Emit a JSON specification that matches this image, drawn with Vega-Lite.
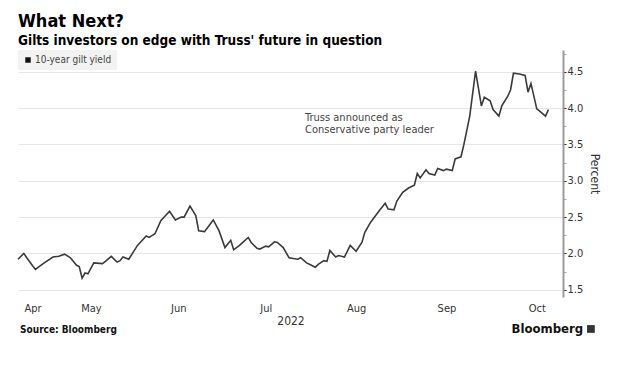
{
  "$schema": "https://vega.github.io/schema/vega-lite/v6.json",
  "width": 545,
  "height": 247,
  "autosize": {"type": "none"},
  "padding": {"left": 18, "top": 50, "right": 70, "bottom": 73},
  "background": "white",
  "title": {
    "text": "What Next?",
    "subtitle": "Gilts investors on edge with Truss' future in question",
    "anchor": "start",
    "frame": "group",
    "font": "DejaVu Sans Condensed, DejaVu Sans",
    "fontSize": 18,
    "fontWeight": "bold",
    "color": "#000000",
    "subtitleFont": "DejaVu Sans Condensed, DejaVu Sans",
    "subtitleFontSize": 13.5,
    "subtitleFontWeight": "bold",
    "subtitleColor": "#000000",
    "subtitlePadding": 3,
    "offset": 3
  },
  "config": {
    "view": {"stroke": null},
    "font": "DejaVu Sans Condensed, DejaVu Sans",
    "text": {"font": "DejaVu Sans Condensed, DejaVu Sans"}
  },
  "encoding": {
    "x": {
      "field": "date",
      "type": "temporal",
      "scale": {"domain": ["2022-04-21", "2022-10-25"]},
      "axis": {
        "values": [
          {"year": 2022, "month": 4, "date": 26},
          {"year": 2022, "month": 5, "date": 16},
          {"year": 2022, "month": 6, "date": 15},
          {"year": 2022, "month": 7, "date": 15},
          {"year": 2022, "month": 8, "date": 15},
          {"year": 2022, "month": 9, "date": 15},
          {"year": 2022, "month": 10, "date": 16}
        ],
        "format": "%b",
        "grid": false,
        "ticks": false,
        "domain": false,
        "labelFontSize": 11,
        "labelColor": "#333333",
        "labelPadding": 5,
        "title": "2022",
        "titleFontSize": 12,
        "titleFontWeight": "normal",
        "titleColor": "#333333",
        "titlePadding": 2
      }
    },
    "y": {
      "field": "value",
      "type": "quantitative",
      "scale": {"domain": [1.4, 4.8], "zero": false, "nice": false},
      "axis": {
        "orient": "right",
        "values": [1.5, 1.75, 2, 2.25, 2.5, 2.75, 3, 3.25, 3.5, 3.75, 4, 4.25, 4.5, 4.75],
        "labelExpr": "(datum.value * 2) % 1 == 0 ? format(datum.value, '.1f') : ''",
        "grid": true,
        "gridColor": "#e6e6e6",
        "gridOpacity": {"condition": {"test": "(datum.value * 2) % 1 == 0", "value": 1}, "value": 0},
        "domainColor": "#9a9a9a",
        "domainWidth": 2,
        "tickColor": {"condition": {"test": "(datum.value * 2) % 1 == 0", "value": "#333333"}, "value": "#aaaaaa"},
        "tickSize": 3,
        "tickWidth": 1,
        "labelFontSize": 11,
        "labelColor": "#333333",
        "labelPadding": 1,
        "title": "Percent",
        "titleFontSize": 12,
        "titleFontWeight": "normal",
        "titleColor": "#333333",
        "titlePadding": 5
      }
    }
  },
  "layer": [
    {
      "data": {"values": [
        {"date": "2022-05-01"}, {"date": "2022-06-01"}, {"date": "2022-07-01"},
        {"date": "2022-08-01"}, {"date": "2022-09-01"}, {"date": "2022-10-01"}
      ]},
      "mark": {"type": "rule", "color": "#e6e6e6", "strokeWidth": 1},
      "encoding": {"y": {"datum": 1.4}, "y2": {"datum": 4.8}}
    },
    {
      "data": {"values": [
        {"date": "2022-04-21", "value": 1.92},
        {"date": "2022-04-23", "value": 2.00},
        {"date": "2022-04-24", "value": 1.94},
        {"date": "2022-04-26", "value": 1.83},
        {"date": "2022-04-27", "value": 1.78},
        {"date": "2022-04-28", "value": 1.81},
        {"date": "2022-04-30", "value": 1.87},
        {"date": "2022-05-03", "value": 1.95},
        {"date": "2022-05-05", "value": 1.96},
        {"date": "2022-05-07", "value": 1.99},
        {"date": "2022-05-09", "value": 1.94},
        {"date": "2022-05-11", "value": 1.84},
        {"date": "2022-05-12", "value": 1.82},
        {"date": "2022-05-13", "value": 1.66},
        {"date": "2022-05-14", "value": 1.73},
        {"date": "2022-05-15", "value": 1.72},
        {"date": "2022-05-17", "value": 1.87},
        {"date": "2022-05-20", "value": 1.86},
        {"date": "2022-05-21", "value": 1.89},
        {"date": "2022-05-23", "value": 1.96},
        {"date": "2022-05-25", "value": 1.88},
        {"date": "2022-05-26", "value": 1.90},
        {"date": "2022-05-27", "value": 1.95},
        {"date": "2022-05-29", "value": 1.92},
        {"date": "2022-06-01", "value": 2.11},
        {"date": "2022-06-04", "value": 2.24},
        {"date": "2022-06-05", "value": 2.22},
        {"date": "2022-06-07", "value": 2.27},
        {"date": "2022-06-09", "value": 2.45},
        {"date": "2022-06-12", "value": 2.58},
        {"date": "2022-06-14", "value": 2.46},
        {"date": "2022-06-16", "value": 2.50},
        {"date": "2022-06-17", "value": 2.50},
        {"date": "2022-06-19", "value": 2.65},
        {"date": "2022-06-21", "value": 2.52},
        {"date": "2022-06-22", "value": 2.31},
        {"date": "2022-06-24", "value": 2.30},
        {"date": "2022-06-27", "value": 2.46},
        {"date": "2022-06-29", "value": 2.31},
        {"date": "2022-07-01", "value": 2.08},
        {"date": "2022-07-03", "value": 2.18},
        {"date": "2022-07-04", "value": 2.05},
        {"date": "2022-07-06", "value": 2.11},
        {"date": "2022-07-09", "value": 2.22},
        {"date": "2022-07-10", "value": 2.15},
        {"date": "2022-07-12", "value": 2.07},
        {"date": "2022-07-13", "value": 2.06},
        {"date": "2022-07-15", "value": 2.10},
        {"date": "2022-07-16", "value": 2.09},
        {"date": "2022-07-18", "value": 2.16},
        {"date": "2022-07-19", "value": 2.15},
        {"date": "2022-07-21", "value": 2.08},
        {"date": "2022-07-23", "value": 1.94},
        {"date": "2022-07-26", "value": 1.92},
        {"date": "2022-07-27", "value": 1.94},
        {"date": "2022-07-29", "value": 1.87},
        {"date": "2022-07-30", "value": 1.85},
        {"date": "2022-08-01", "value": 1.81},
        {"date": "2022-08-02", "value": 1.85},
        {"date": "2022-08-04", "value": 1.90},
        {"date": "2022-08-05", "value": 1.89},
        {"date": "2022-08-06", "value": 2.04},
        {"date": "2022-08-08", "value": 1.95},
        {"date": "2022-08-09", "value": 1.97},
        {"date": "2022-08-11", "value": 1.95},
        {"date": "2022-08-13", "value": 2.11},
        {"date": "2022-08-15", "value": 2.03},
        {"date": "2022-08-17", "value": 2.15},
        {"date": "2022-08-18", "value": 2.29},
        {"date": "2022-08-20", "value": 2.43},
        {"date": "2022-08-23", "value": 2.59},
        {"date": "2022-08-25", "value": 2.69},
        {"date": "2022-08-26", "value": 2.61},
        {"date": "2022-08-28", "value": 2.60},
        {"date": "2022-08-29", "value": 2.72},
        {"date": "2022-08-31", "value": 2.84},
        {"date": "2022-09-02", "value": 2.90},
        {"date": "2022-09-04", "value": 2.94},
        {"date": "2022-09-05", "value": 3.10},
        {"date": "2022-09-06", "value": 3.04},
        {"date": "2022-09-08", "value": 3.15},
        {"date": "2022-09-09", "value": 3.10},
        {"date": "2022-09-11", "value": 3.08},
        {"date": "2022-09-12", "value": 3.17},
        {"date": "2022-09-14", "value": 3.14},
        {"date": "2022-09-15", "value": 3.16},
        {"date": "2022-09-17", "value": 3.14},
        {"date": "2022-09-18", "value": 3.30},
        {"date": "2022-09-20", "value": 3.33},
        {"date": "2022-09-21", "value": 3.50},
        {"date": "2022-09-23", "value": 3.89},
        {"date": "2022-09-25", "value": 4.51},
        {"date": "2022-09-27", "value": 4.03},
        {"date": "2022-09-28", "value": 4.15},
        {"date": "2022-09-30", "value": 4.10},
        {"date": "2022-10-01", "value": 3.98},
        {"date": "2022-10-03", "value": 3.89},
        {"date": "2022-10-04", "value": 4.03},
        {"date": "2022-10-06", "value": 4.16},
        {"date": "2022-10-07", "value": 4.25},
        {"date": "2022-10-08", "value": 4.48},
        {"date": "2022-10-10", "value": 4.47},
        {"date": "2022-10-12", "value": 4.45},
        {"date": "2022-10-13", "value": 4.22},
        {"date": "2022-10-14", "value": 4.34},
        {"date": "2022-10-16", "value": 3.99},
        {"date": "2022-10-17", "value": 3.96},
        {"date": "2022-10-19", "value": 3.89},
        {"date": "2022-10-20", "value": 3.98}
      ]},
      "mark": {"type": "line", "strokeWidth": 1.6, "interpolate": "linear"},
      "encoding": {
        "color": {
          "datum": "10-year gilt yield",
          "scale": {"range": ["#3a3a3a"]},
          "legend": {
            "orient": "top-left",
            "offset": 0,
            "title": null,
            "fillColor": "#f2f2f2",
            "padding": 5,
            "symbolType": "square",
            "symbolSize": 30,
            "symbolFillColor": "#111111",
            "symbolStrokeColor": "#111111",
            "symbolStrokeWidth": 0,
            "labelFontSize": 10,
            "labelColor": "#444444",
            "labelOffset": 2
          }
        }
      }
    },
    {
      "data": {"values": [
        {"date": "2022-07-28T12:00", "value": 3.82, "label": "Truss announced as\nConservative party leader"}
      ]},
      "mark": {"type": "text", "align": "left", "baseline": "alphabetic", "fontSize": 11, "color": "#444444", "lineBreak": "\n", "lineHeight": 12},
      "encoding": {"text": {"field": "label"}}
    },
    {
      "data": {"values": [
        {"date": "2022-04-21T17:00", "value": 0.905, "label": "Source: Bloomberg"}
      ]},
      "mark": {"type": "text", "align": "left", "baseline": "alphabetic", "fontSize": 10, "fontWeight": "bold", "color": "#111111"},
      "encoding": {"text": {"field": "label"}}
    },
    {
      "data": {"values": [
        {"date": "2022-10-31T22:00", "value": 0.905, "label": "Bloomberg"}
      ]},
      "mark": {"type": "text", "align": "right", "baseline": "alphabetic", "fontSize": 13, "fontWeight": "bold", "color": "#111111"},
      "encoding": {"text": {"field": "label"}}
    },
    {
      "data": {"values": [
        {"date": "2022-11-03T14:00", "value": 0.96}
      ]},
      "mark": {"type": "point", "shape": "square", "filled": true, "size": 60, "color": "#333333", "opacity": 1},
      "encoding": {}
    }
  ]
}
